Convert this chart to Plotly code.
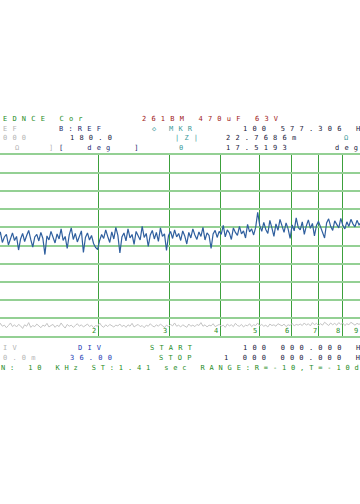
import numpy as np
import plotly.graph_objects as go

# ---- data ----
START_HZ = 100000.0
STOP_HZ = 1000000.0
N_POINTS = 201

# trace B: phase (deg)
phase_deg = [
    16, 8, 21, 13, 26, 5, 18, 11, 23, 9,
    19, 14, 27, 6, 17, 22, 1, 15, 25, 10,
    18, -9, 13, 24, 8, 20, 30, 12, -3, 17,
    22, 9, 26, 14, -18, 19, 11, 28, 16, 5,
    23, 13, 33, 10, 18, -6, 21, 35, 12, 24,
    7, 19, 29, -14, 16, 25, 11, 20, 4, -4,
    -8, 10, 22, 14, 31, 18, 6, 27, 13, 36,
    20, -15, 17, 25, 9, 33, 15, 22, 2, 28,
    19, 11, 38, 16, 24, -2, 21, 30, 13, 26,
    8, 35, 18, 23, -10, 20, 28, 14, 31, 17,
    24, 10, 29, 19, 3, 26, 15, 33, 21, 12,
    27, 18, 36, 11, 25, 20, -6, 23, 30, 16,
    28, 22, 40, 17, 31, 25, 12, 35, 26, 20,
    38, 23, 29, 15, 42, 27, 33, 21, 36, 66,
    40, 28, 46, 32, 24, 50, 35, 18, 43, 30,
    52, 37, 26, 45, 33, 14, 41, 29, 55, 36,
    31, 47, 22, 39, 51, 34, 44, 19, 40, 48,
    36, 27, 15, 45, 53, 38, 30, 49, 42, 35,
    54, 40, 33, 47, 38, 52, 43, 37, 50, 41,
    46, 55, 42, 48, 39, 51, 45, 53, 44, 49,
    47,
]

# trace A: |Z| (mOhm)
absz_mohm = [
    27, 32, 24, 30, 26, 34, 25, 29, 22, 31,
    28, 24, 35, 27, 30, 23, 29, 36, 26, 31,
    25, 32, 28, 21, 31, 27, 37, 24, 29, 26,
    33, 28, 23, 30, 27, 35, 25, 29, 32, 24,
    30, 26, 36, 28, 22, 32, 27, 30, 24, 29,
    34, 27, 31, 25, 28, 33, 26, 30, 23, 29,
    27, 36, 28, 24, 31, 26, 32, 29, 25, 30,
    28, 33, 26, 30, 24, 31, 27, 35, 25, 29,
    32, 26, 29, 23, 30, 27, 34, 28, 25, 31,
    27, 33, 29, 24, 30, 26, 32, 28, 36, 27,
    30, 25, 31, 28, 24, 33, 27, 30, 26, 32,
    29, 37, 27, 31, 25, 30, 28, 34, 26, 29,
    32, 27, 30, 24, 33, 28, 31, 26, 35, 29,
    27, 32, 25, 30, 28, 34, 26, 31, 29, 36,
    28, 32, 27, 30, 25, 33, 29, 31, 27, 34,
    30, 28, 33, 26, 31, 29, 35, 28, 32, 30,
    33, 29, 36, 30, 34, 28, 37, 31, 35, 29,
    34, 30, 38, 32, 29, 36, 31, 35, 30, 37,
    32, 36, 29, 34, 31, 38, 33, 30, 35, 32,
    36, 31, 34, 29, 37, 33, 30, 35, 32, 34,
    33,
]

grid_freqs = [200000, 300000, 400000, 500000, 600000, 700000, 800000, 900000]
grid_labels = ["2", "3", "4", "5", "6", "7", "8", "9"]
phase_ticks = [-144, -108, -72, -36, 0, 36, 72, 108, 144]

freqs = np.geomspace(START_HZ, STOP_HZ, N_POINTS)

# ---- style ----
W, H = 360, 504
X_RANGE = [5.0592, 5.9474]
GREEN = "#1e8c1e"
RED = "#a01818"
TEAL = "#3a9a9a"
DARK = "#20203c"
NAVY = "#1e2a6e"
BLUE = "#1c3cb4"
GREY = "#b4b4b4"

# (text, left px, centre y px, colour, letter spacing px)
screen_texts = [
    ("EDNCE Cor", 2, 119, GREEN, 5.2),
    ("261BM 470uF 63V", 141, 119, RED, 5.2),
    ("EF", 2, 129, GREY, 5.2),
    ("B:REF", 58, 129, NAVY, 5.2),
    ("\u25c7", 151, 129, TEAL, 5.2),
    ("MKR", 168, 129, TEAL, 5.2),
    ("100 577.306 H", 242, 129, DARK, 5.2),
    ("000", 2, 138, GREY, 5.2),
    ("180.0", 69, 138, DARK, 5.2),
    ("|Z|", 174, 138, TEAL, 5.2),
    ("22.7686m", 225, 138, DARK, 5.2),
    ("\u03a9", 343, 138, TEAL, 5.2),
    ("\u03a9", 14, 148, GREY, 5.2),
    ("]", 48, 148, GREY, 5.2),
    ("[\u00a0\u00a0deg\u00a0\u00a0]", 58, 148, NAVY, 5.2),
    ("\u03b8", 178, 148, TEAL, 5.2),
    ("17.5193", 225, 148, DARK, 5.2),
    ("deg", 334, 148, DARK, 5.2),
    ("IV", 2, 348, GREY, 5.2),
    ("DIV", 77, 348, BLUE, 5.2),
    ("START", 149, 348, GREEN, 5.2),
    ("100 000.000 H", 242, 348, DARK, 5.2),
    ("0.0m", 2, 358, GREY, 5.2),
    ("36.00", 69, 358, BLUE, 5.2),
    ("STOP", 158, 358, GREEN, 5.2),
    ("1 000 000.000 H", 223, 358, DARK, 5.2),
    ("N: 10 KHz ST:1.41 sec RANGE:R=-10,T=-10d", 0, 368, GREEN, 4.85),
]

fig = go.Figure()
fig.add_trace(go.Scatter(
    x=freqs, y=absz_mohm, mode="lines", yaxis="y2",
    line=dict(color="#c4c4c4", width=1), showlegend=False, hoverinfo="skip",
))
fig.add_trace(go.Scatter(
    x=freqs, y=phase_deg, mode="lines",
    line=dict(color="#2f5f9e", width=1.2), showlegend=False, hoverinfo="skip",
))


def spaced(txt, ls):
    if len(txt) <= 1:
        return txt
    return f'<span style="letter-spacing:{ls}px">{txt[:-1]}</span>{txt[-1]}'


annotations = []
for txt, xp, yp, col, ls in screen_texts:
    annotations.append(dict(
        text=spaced(txt, ls),
        x=xp / W, y=1 - yp / H, xref="paper", yref="paper",
        xanchor="left", yanchor="middle", showarrow=False,
        font=dict(family="DejaVu Sans Mono", size=7, color=col),
        borderpad=0,
    ))
for f, lab in zip(grid_freqs, grid_labels):
    xpaper = (np.log10(f) - X_RANGE[0]) / (X_RANGE[1] - X_RANGE[0])
    annotations.append(dict(
        text=lab, x=min(xpaper, 1.0), y=0.3333, xref="paper", yref="paper",
        xanchor="right", yanchor="bottom", xshift=-1, yshift=0,
        showarrow=False, borderpad=0,
        font=dict(family="DejaVu Sans Mono", size=7, color=GREEN),
    ))

fig.update_layout(
    width=W, height=H,
    margin=dict(l=0, r=0, t=0, b=0, pad=0),
    paper_bgcolor="white", plot_bgcolor="white",
    xaxis=dict(
        type="log", range=X_RANGE, domain=[0, 1],
        tickvals=grid_freqs, showticklabels=False, ticks="",
        showgrid=True, gridcolor="#3ca03c", gridwidth=1,
        showline=True, mirror=True, linecolor="#94d094", linewidth=2,
        zeroline=False, fixedrange=True,
    ),
    yaxis=dict(
        range=[-180, 180], domain=[0.3333, 0.6925],
        tickvals=phase_ticks, showticklabels=False, ticks="",
        showgrid=True, gridcolor="#94d094", gridwidth=2,
        zeroline=False, showline=False, fixedrange=True,
    ),
    yaxis2=dict(
        range=[0, 500], overlaying="y", visible=False, fixedrange=True,
    ),
    annotations=annotations,
)

fig.write_html("out.html")
